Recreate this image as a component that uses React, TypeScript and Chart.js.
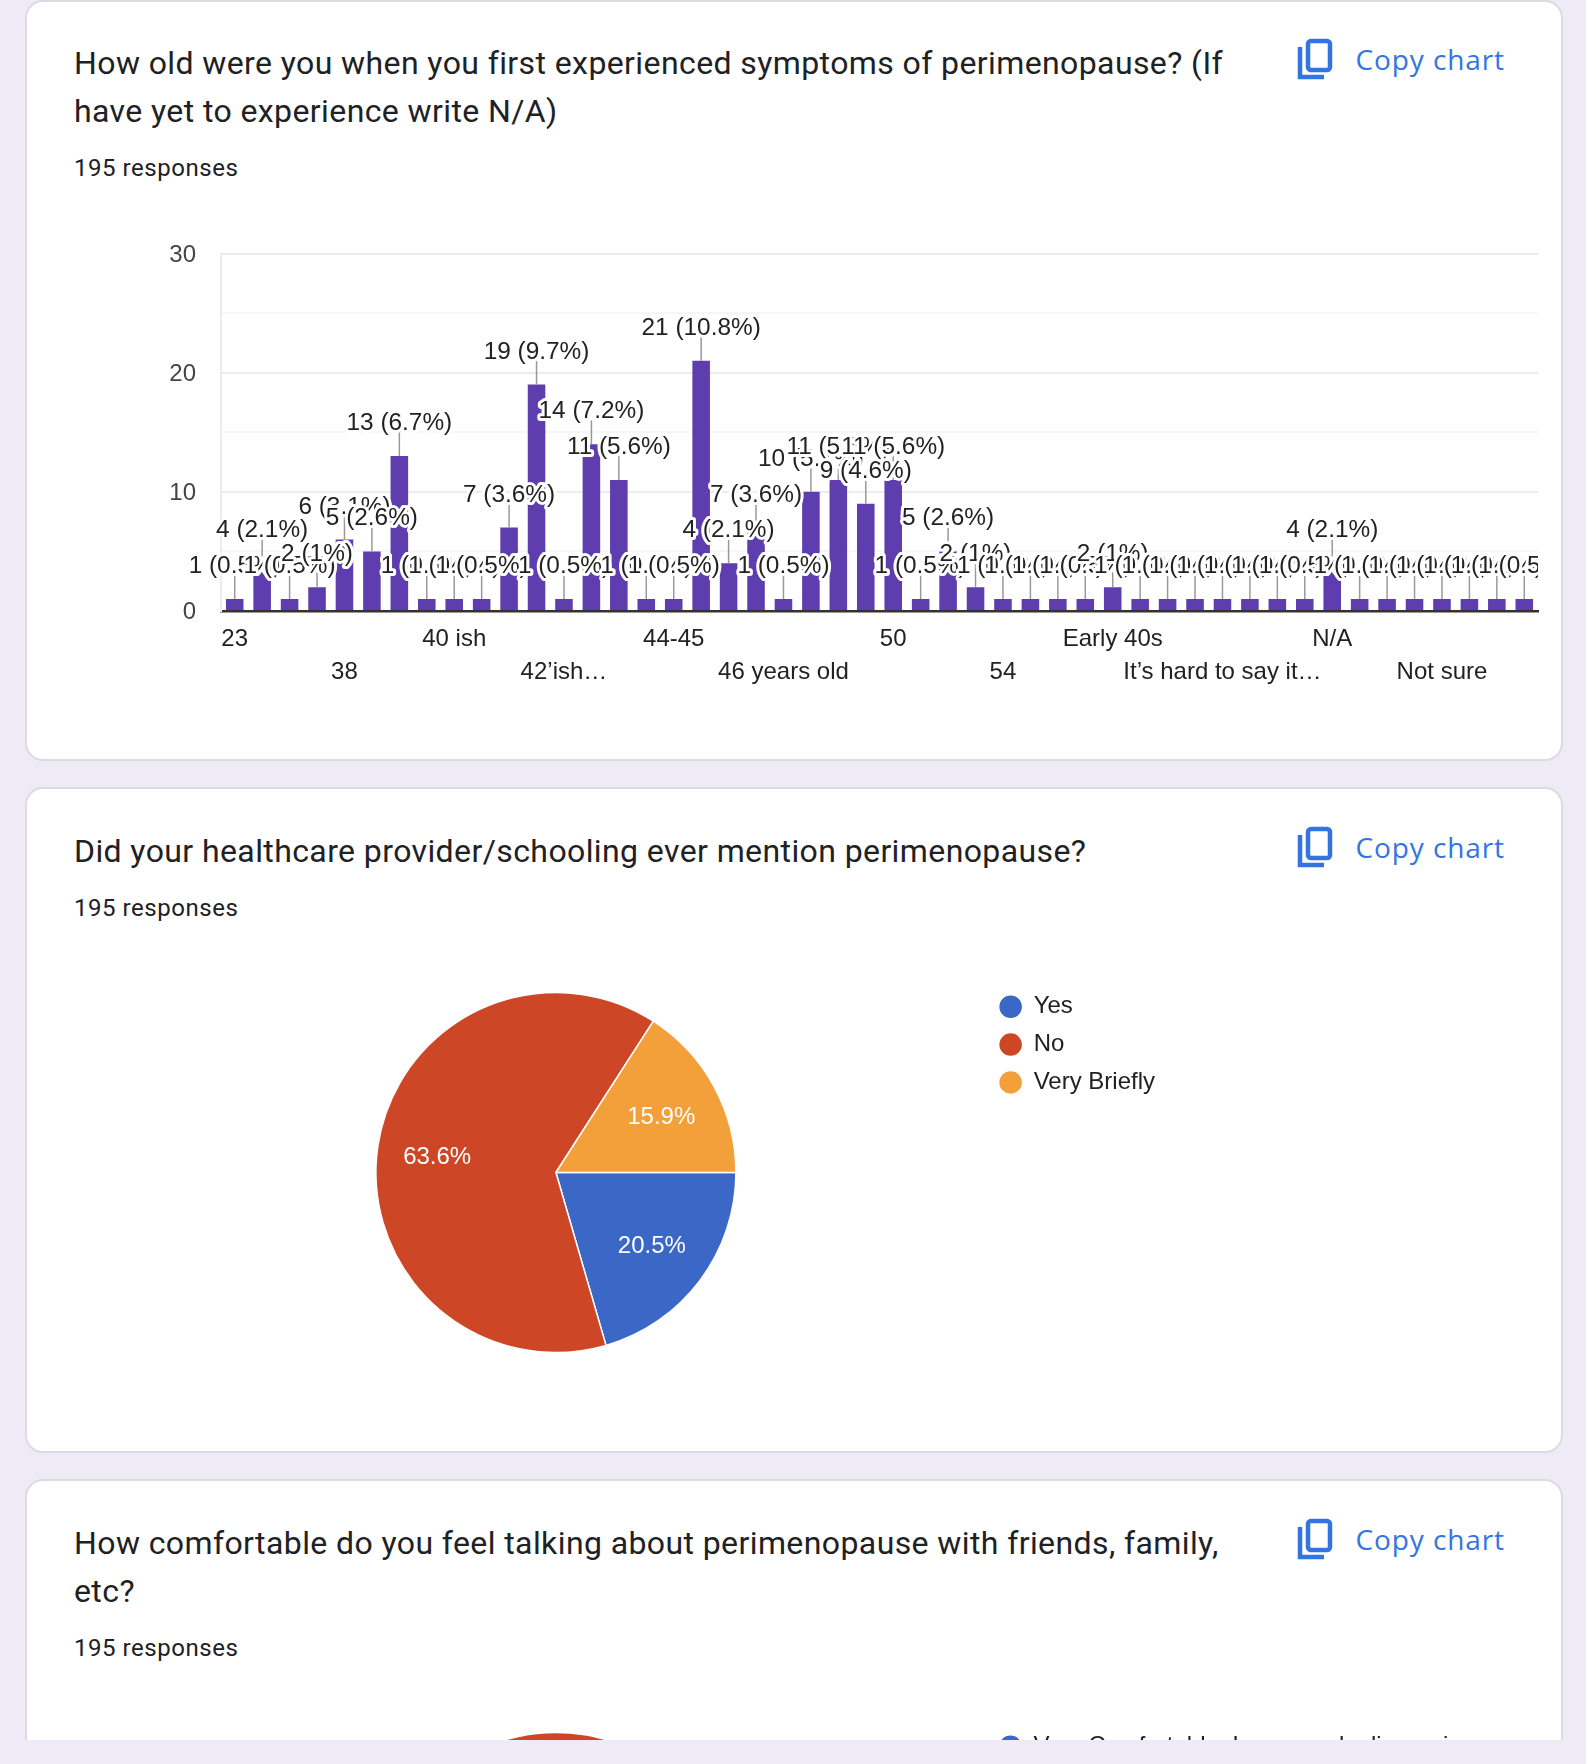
import React, { useEffect, useRef } from "react";
import Chart from "chart.js/auto";

const ageLabels = [
  "23", "30", "33", "35", "38", "39", "40", "40-41", "40 ish", "40s", "41", "42",
  "42’ish…", "43", "44", "44 or 45", "44-45", "45", "45-46", "46", "46 years old", "47", "48", "49",
  "50", "50 ish", "51", "52", "54", "55", "Don’t know", "Early 30s", "Early 40s", "Early 50s", "Idk", "In my 40s",
  "It’s hard to say it…", "Late 30s", "Late 40s", "Mid 40s", "N/A", "N/a", "Na", "None", "Not sure", "Not yet", "Unknown", "Unsure",
];
const ageCounts = [
  1, 4, 1, 2, 6, 5, 13, 1, 1, 1, 7, 19,
  1, 14, 11, 1, 1, 21, 4, 7, 1, 10, 11, 9,
  11, 1, 5, 2, 1, 1, 1, 1, 2, 1, 1, 1,
  1, 1, 1, 1, 4, 1, 1, 1, 1, 1, 1, 1,
];
const totalResponses = 195;

const mentionLabels = ["Yes", "No", "Very Briefly"];
const mentionCounts = [40, 124, 31];

const comfortLabels = ["Very Comfortable, I am openly discussing", "Somewhat comfortable", "Not comfortable"];
const comfortCounts = [70, 100, 25];

const pieColors = ["#3b67c6", "#cd4726", "#f4a03a"];

const TEXT_FONT = "'Liberation Sans', Arial, sans-serif";

// value labels with a stem and a white halo, drawn in data order so later ones cover earlier ones
const barLabelPlugin = {
  id: "barLabels",
  afterDatasetsDraw(chart: any) {
    const { ctx, chartArea } = chart;
    const bars = chart.getDatasetMeta(0).data;
    ctx.save();
    ctx.beginPath();
    ctx.rect(0, 0, chartArea.right, chart.height);
    ctx.clip();
    ctx.strokeStyle = "#999999";
    ctx.lineWidth = 1.5;
    bars.forEach((bar: any) => {
      ctx.beginPath();
      ctx.moveTo(bar.x, bar.y);
      ctx.lineTo(bar.x, bar.y - 23.7);
      ctx.stroke();
    });
    ctx.font = `24.4px ${TEXT_FONT}`;
    ctx.textAlign = "center";
    ctx.textBaseline = "alphabetic";
    ctx.lineJoin = "round";
    bars.forEach((bar: any, i: number) => {
      const pct = parseFloat(((ageCounts[i] / totalResponses) * 100).toFixed(1));
      const text = `${ageCounts[i]} (${pct}%)`;
      ctx.strokeStyle = "#ffffff";
      ctx.lineWidth = 6;
      ctx.strokeText(text, bar.x, bar.y - 26);
      ctx.fillStyle = "#222222";
      ctx.fillText(text, bar.x, bar.y - 26);
    });
    ctx.restore();
  },
};

const pieLabelPlugin = {
  id: "pieLabels",
  afterDatasetsDraw(chart: any) {
    const { ctx } = chart;
    const values = chart.data.datasets[0].data as number[];
    const total = values.reduce((a, b) => a + b, 0);
    ctx.save();
    ctx.font = `24px ${TEXT_FONT}`;
    ctx.fillStyle = "#ffffff";
    ctx.textAlign = "center";
    ctx.textBaseline = "middle";
    chart.getDatasetMeta(0).data.forEach((arc: any, i: number) => {
      const mid = (arc.startAngle + arc.endAngle) / 2;
      const r = (arc.outerRadius * 2) / 3;
      const pct = ((values[i] / total) * 100).toFixed(1);
      ctx.fillText(`${pct}%`, arc.x + Math.cos(mid) * r, arc.y + Math.sin(mid) * r + 2);
    });
    ctx.restore();
  },
};

const AgeBarChart: React.FC = () => {
  const chartRef = useRef<HTMLCanvasElement | null>(null);

  useEffect(() => {
    if (!chartRef.current) return;
    const chart = new Chart(chartRef.current, {
      type: "bar",
      data: {
        labels: ageLabels,
        datasets: [
          {
            data: ageCounts,
            backgroundColor: "#5e3dae",
            barPercentage: 0.64,
            categoryPercentage: 1,
          },
        ],
      },
      plugins: [barLabelPlugin],
      options: {
        animation: false,
        responsive: false,
        devicePixelRatio: 1,
        layout: { padding: { top: 23.5, right: 13, left: 0, bottom: 0 } },
        plugins: { legend: { display: false }, tooltip: { enabled: false } },
        scales: {
          x: {
            afterFit: (scale: any) => {
              scale.height = 109;
            },
            border: { color: "#333333", width: 2.5 },
            grid: {
              drawTicks: false,
              color: (c: any) => (c.index === ageLabels.length ? "#ececec" : "transparent"),
              lineWidth: 2,
            },
            ticks: {
              autoSkip: false,
              maxRotation: 0,
              padding: 11.5,
              color: "#222222",
              font: { family: TEXT_FONT, size: 24, lineHeight: 33 / 24 },
              callback: (_v: any, i: number) => {
                if (i % 4 !== 0) return null;
                return i % 8 === 0 ? ageLabels[i] : ["", ageLabels[i]];
              },
            },
          },
          y: {
            min: 0,
            max: 30,
            afterFit: (scale: any) => {
              scale.width = 80;
              scale.paddingTop = 0;
              scale.paddingBottom = 0;
            },
            border: { color: "#ececec", width: 2 },
            grid: {
              drawTicks: false,
              color: (c: any) => (c.tick.value % 10 === 0 ? "#ececec" : "#f6f6f6"),
              lineWidth: 2,
            },
            ticks: {
              stepSize: 5,
              padding: 25,
              color: "#444444",
              // the empty first line nudges the digits down onto the grid line
              font: { family: TEXT_FONT, size: 24, lineHeight: "3px" },
              callback: (v: any) => (v % 10 === 0 ? ["", String(v)] : ""),
            },
          },
        },
      },
    } as any);
    return () => chart.destroy();
  }, []);

  return (
    <canvas
      ref={chartRef}
      width={1410}
      height={490}
      style={{ position: "absolute", left: 140.5, top: 230 }}
    />
  );
};

interface PieProps {
  labels: string[];
  values: number[];
  rotation: number;
  top: number;
  width: number;
}

const SurveyPie: React.FC<PieProps> = ({ labels, values, rotation, top, width }) => {
  const chartRef = useRef<HTMLCanvasElement | null>(null);

  useEffect(() => {
    if (!chartRef.current) return;
    const chart = new Chart(chartRef.current, {
      type: "pie",
      data: {
        labels,
        datasets: [
          {
            data: values,
            backgroundColor: pieColors,
            borderColor: "#ffffff",
            borderWidth: 1.5,
            radius: 180,
          },
        ],
      },
      plugins: [pieLabelPlugin],
      options: {
        animation: false,
        responsive: false,
        devicePixelRatio: 1,
        rotation,
        plugins: {
          tooltip: { enabled: false },
          legend: {
            position: "right",
            align: "start",
            labels: {
              usePointStyle: true,
              pointStyle: "circle",
              boxWidth: 22,
              boxHeight: 17,
              padding: 13.8,
              color: "#222222",
              font: { family: TEXT_FONT, size: 24 },
            },
          },
        },
      },
    } as any);
    return () => chart.destroy();
  }, []);

  return (
    <canvas
      ref={chartRef}
      width={width}
      height={383}
      style={{ position: "absolute", left: 126.1, top }}
    />
  );
};

const CopyChart: React.FC<{ top: number }> = ({ top }) => (
  <>
    <svg
      width={40}
      height={44}
      viewBox="0 0 40 44"
      style={{ position: "absolute", left: 1296, top: top + 38 }}
    >
      <rect x={12} y={4} width={22} height={29} rx={3} fill="none" stroke="#3275e1" strokeWidth={4.5} />
      <path d="M4 10 V40 H28" fill="none" stroke="#3275e1" strokeWidth={4.5} />
    </svg>
    <div
      style={{
        position: "absolute",
        left: 1355.5,
        top: top + 40,
        font: "500 28px 'Open Sans', sans-serif",
        letterSpacing: "0.9px",
        lineHeight: "40px",
        color: "#3275e1",
        whiteSpace: "nowrap",
      }}
    >
      Copy chart
    </div>
  </>
);

interface CardProps {
  top: number;
  height: number;
  title: string;
  lines: number;
  textTop: number;
}

const Card: React.FC<CardProps> = ({ top, height, title, lines, textTop }) => (
  <>
    <div
      style={{
        position: "absolute",
        left: 25,
        top,
        width: 1538,
        height,
        boxSizing: "border-box",
        background: "#ffffff",
        border: "2px solid #dadce0",
        borderRadius: 18,
      }}
    />
    <div
      style={{
        position: "absolute",
        left: 74,
        top: textTop,
        width: 1170,
        font: "400 32px Roboto, sans-serif",
        letterSpacing: "0.4px",
        lineHeight: "48px",
        color: "#202124",
      }}
    >
      {title}
    </div>
    <div
      style={{
        position: "absolute",
        left: 74,
        top: textTop + lines * 48 + 15,
        font: "400 24px Roboto, sans-serif",
        letterSpacing: "0.55px",
        lineHeight: "36px",
        color: "#202124",
      }}
    >
      195 responses
    </div>
    <CopyChart top={textTop - 40} />
  </>
);

export default function App() {
  return (
    <div
      style={{
        position: "absolute",
        left: 0,
        top: 0,
        width: 1586,
        height: 1764,
        overflow: "hidden",
        background: "#eeebf6",
      }}
    >
      <Card
        top={0}
        height={761}
        lines={2}
        textTop={39}
        title="How old were you when you first experienced symptoms of perimenopause? (If have yet to experience write N/A)"
      />
      <AgeBarChart />
      <Card
        top={787}
        height={666}
        lines={1}
        textTop={827}
        title="Did your healthcare provider/schooling ever mention perimenopause?"
      />
      <SurveyPie labels={mentionLabels} values={mentionCounts} rotation={90} top={980.5} width={1039} />
      <Card
        top={1479}
        height={300}
        lines={2}
        textTop={1519}
        title="How comfortable do you feel talking about perimenopause with friends, family, etc?"
      />
      <SurveyPie labels={comfortLabels} values={comfortCounts} rotation={150} top={1720.5} width={1359} />
      <div style={{ position: "absolute", left: 0, top: 1740, width: 1586, height: 24, background: "#eeebf6" }} />
    </div>
  );
}
